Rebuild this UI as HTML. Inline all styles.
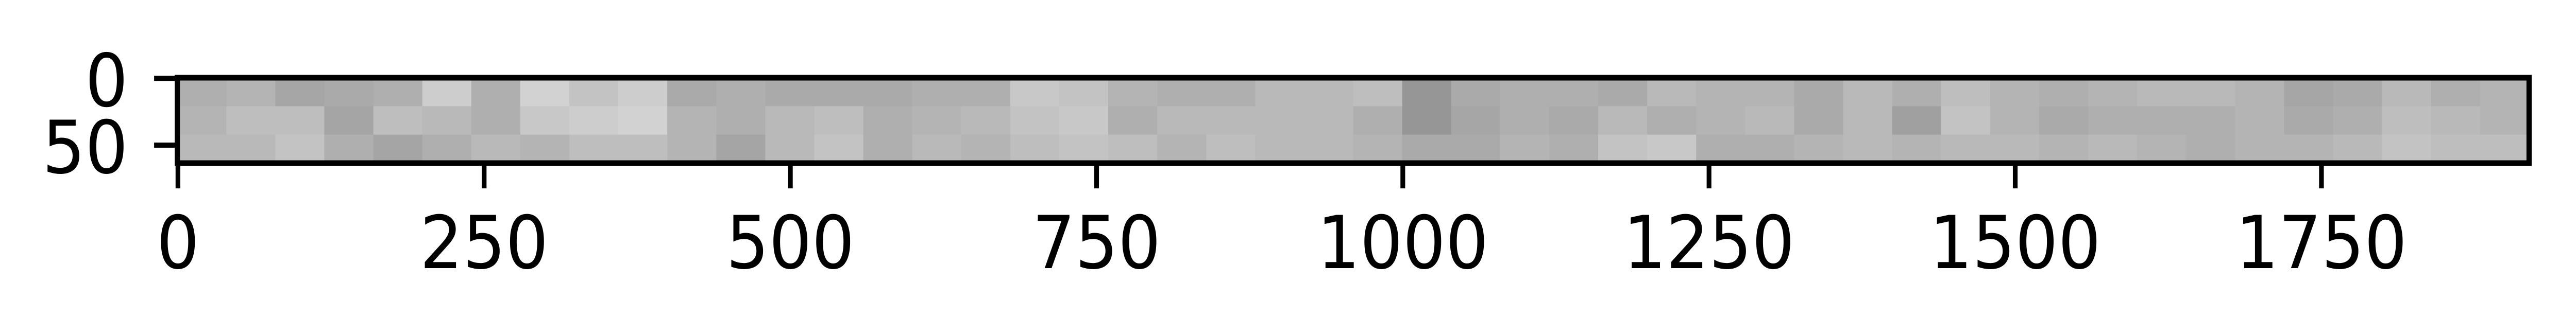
<!DOCTYPE html>
<html><head><meta charset="utf-8"><style>
html,body{margin:0;padding:0;background:#fff;width:100%;height:100%;overflow:hidden}
#chart{position:fixed;left:0;top:0;width:100vw;height:100vh;display:block}
svg text{font-family:"DejaVu Sans","Liberation Sans",sans-serif;font-size:142px;fill:#000}
</style></head><body>
<svg id="chart" viewBox="0 0 5433 649" preserveAspectRatio="none" xmlns="http://www.w3.org/2000/svg"></svg>
<script>
// Data (coarse grayscale intensity of image, 3 rows x 48 column blocks)
const imgWidth = 1920;
const imgHeight = 64;
const xTicks = [0, 250, 500, 750, 1000, 1250, 1500, 1750];
const yTicks = [0, 50];
const row0 = [175,180,166,170,175,205,175,210,195,205,170,175,170,170,170,175,175,200,195,180,175,175,185,185,190,150,170,175,175,170,185,180,180,170,185,175,190,180,175,180,185,185,180,166,170,185,175,180];
const row1 = [180,190,190,165,190,185,175,200,205,210,180,175,185,190,175,180,185,195,200,175,185,185,185,185,175,150,166,175,170,185,175,180,185,170,185,160,195,180,170,175,175,175,180,170,175,190,185,180];
const row2 = [185,185,195,175,165,175,185,180,190,190,180,165,185,195,175,185,180,190,195,190,180,190,185,185,180,170,170,180,175,195,200,175,175,180,185,180,185,185,180,185,180,175,180,180,185,195,190,190];
const rows = [row0, row1, row2];

const svg = document.getElementById('chart');
const NS = 'http://www.w3.org/2000/svg';
const X0 = 374, X1 = 5334, Y0 = 151, Y1 = 317;
const sx = v => X0 + (v + 0.5) / imgWidth * (X1 - X0);
const sy = v => Y0 + (v + 0.5) / imgHeight * (Y1 - Y0);
function mk(tag, attrs){const e=document.createElementNS(NS,tag);for(const k in attrs)e.setAttribute(k,attrs[k]);svg.appendChild(e);return e;}

const nCols = row0.length, nRows = rows.length;
for (let r = 0; r < nRows; r++) {
  for (let c = 0; c < nCols; c++) {
    const v = rows[r][c];
    const xa = sx(c * imgWidth / nCols - 0.5), xb = sx((c + 1) * imgWidth / nCols - 0.5);
    const ya = sy(r * imgHeight / nRows - 0.5), yb = sy((r + 1) * imgHeight / nRows - 0.5);
    const cell = mk('rect', {x: xa, y: ya, width: xb - xa + 0.5, height: yb - ya + 0.5, fill: `rgb(${v},${v},${v})`});
    
    
  }
}
const frame = mk('rect', {x: X0, y: Y0, width: X1 - X0, height: Y1 - Y0, fill: 'none', stroke: '#000', 'stroke-width': 11});



xTicks.forEach(t => {
  const x = sx(t);
  const tk = mk('line', {x1: x, x2: x, y1: Y1, y2: 366, stroke: '#000', 'stroke-width': 10});
  
  
  const lb = mk('text', {x: x, y: 521, 'text-anchor': 'middle'});
  lb.textContent = t;
  
  
});
yTicks.forEach(t => {
  const y = sy(t);
  const tk = mk('line', {x1: 325, x2: X0, y1: y, y2: y, stroke: '#000', 'stroke-width': 10});
  
  
  const lb = mk('text', {x: 270, y: y + 54, 'text-anchor': 'end'});
  lb.textContent = t;
  
  
});
</script>
</body></html>
